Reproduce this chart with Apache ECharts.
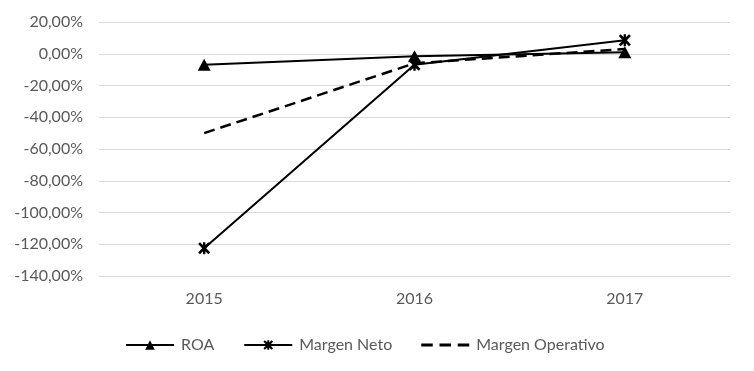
<!DOCTYPE html>
<html>
<head>
<meta charset="utf-8">
<script src="https://cdn.jsdelivr.net/npm/echarts@6/dist/echarts.min.js"></script>
<style>html,body{margin:0;padding:0;background:#fff}#c{width:754px;height:371px}</style>
</head>
<body>
<div id="c"></div>
<script>
var categories = ['2015', '2016', '2017'];
var roa = [-7.0, -1.5, 1.0];
var margenNeto = [-122.5, -7.0, 8.5];
var margenOperativo = [-50.0, -6.0, 3.0];
var seriesNames = ['ROA', 'Margen Neto', 'Margen Operativo'];

var FONT = 'Lato';
var starPath = 'path://M0,1.5 L1.5,0 L5,3.3 L8.5,0 L10,1.5 L6.7,5 L10,8.5 L8.5,10 L5,6.7 L1.5,10 L0,8.5 L3.3,5 Z M4,0 L6,0 L6,10 L4,10 Z';
var dashIcon = 'path://M0,0 L12,0 L12,3 L0,3 Z M19,0 L31,0 L31,3 L19,3 Z M38,0 L50,0 L50,3 L38,3 Z';

var chart = echarts.init(document.getElementById('c'), null, {renderer: 'canvas'});
chart.setOption({
  animation: false,
  backgroundColor: '#ffffff',
  grid: {left: 99, right: 24, top: 22, bottom: 95, containLabel: false},
  legend: {
    data: [
      {name: seriesNames[0]},
      {name: seriesNames[1]},
      {name: seriesNames[2], icon: dashIcon}
    ],
    top: 332,
    left: 120,
    itemWidth: 48,
    itemHeight: 12,
    itemGap: 29,
    textStyle: {fontFamily: FONT, fontSize: 16, color: '#595959', padding: [0, 0, 0, 2]}
  },
  xAxis: {
    type: 'category',
    data: categories,
    axisLine: {show: false},
    axisTick: {show: false},
    axisLabel: {fontFamily: FONT, fontSize: 16, color: '#595959', margin: 15}
  },
  yAxis: {
    type: 'value',
    min: -140, max: 20, interval: 20,
    axisLine: {show: false},
    axisTick: {show: false},
    splitLine: {lineStyle: {color: '#d9d9d9', width: 1}},
    axisLabel: {
      fontFamily: FONT, fontSize: 16, color: '#595959', margin: 16,
      formatter: function (v) { return v.toFixed(2).replace('.', ',') + '%'; }
    }
  },
  series: [
    {
      name: seriesNames[0], type: 'line', data: roa,
      symbol: 'triangle', symbolSize: [13, 12],
      lineStyle: {color: '#000', width: 2},
      itemStyle: {color: '#000'}
    },
    {
      name: seriesNames[1], type: 'line', data: margenNeto,
      symbol: starPath, symbolSize: 12,
      lineStyle: {color: '#000', width: 2},
      itemStyle: {color: '#000'}
    },
    {
      name: seriesNames[2], type: 'line', data: margenOperativo,
      symbol: 'none',
      lineStyle: {color: '#000', width: 2.5, type: [11, 6]},
      itemStyle: {color: '#000'}
    }
  ]
});
</script>
</body>
</html>
